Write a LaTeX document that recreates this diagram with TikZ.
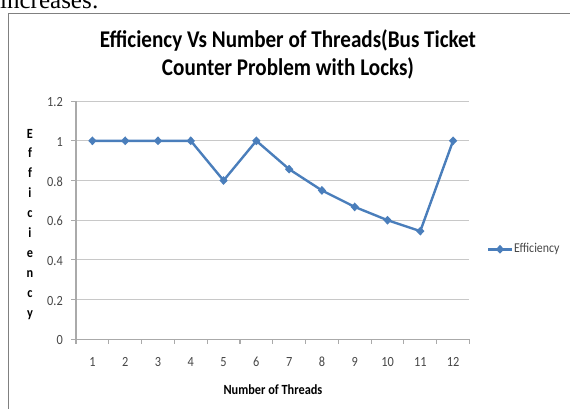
\documentclass[tikz,border=0pt]{standalone}
\usepackage{fontspec}
\setmainfont[FakeStretch=0.88]{Carlito}
\newfontfamily\pagefont{Liberation Serif}
\usetikzlibrary{shapes.geometric}
\definecolor{seriesblue}{RGB}{74,126,187}
\definecolor{framegray}{RGB}{128,128,128}
\definecolor{gridgray}{RGB}{200,200,200}
\definecolor{labelgray}{RGB}{70,70,70}

\begin{document}
\begin{tikzpicture}[x=1pt,y=-1pt,
  every node/.style={inner sep=0pt},
  chart frame/.style={draw=framegray,line width=1.2pt},
  grid line/.style={draw=gridgray,line width=1.1pt},
  axis line/.style={draw=gridgray!85!black,line width=1.1pt},
  series/.style={draw=seriesblue,line width=2.4pt,line join=round},
  marker/.style={diamond,fill=seriesblue,minimum width=8.5pt,minimum height=9pt},
  tick label/.style={font=\fontsize{14}{14}\selectfont,text=labelgray},
  axis title/.style={font=\bfseries\fontsize{14}{14}\selectfont},
  chart title/.style={font=\bfseries\fontsize{24}{24}\selectfont},
  legend text/.style={font=\fontsize{13.5}{13.5}\selectfont,text=labelgray}]

  \clip (0,0) rectangle (570,408);
  % page text above the chart
  \node[anchor=base west,font=\pagefont\fontsize{25}{25}\selectfont] (pagetext) at (0,8) {increases:};
  \draw[chart frame] (8.3,13.3) rectangle (590,430);

  \node[chart title,anchor=base] (title1) at (288,47) {Efficiency Vs Number of Threads(Bus Ticket};
  \node[chart title,anchor=base] (title2) at (288,75) {Counter Problem with Locks)};

  % plot area: one unit per thread, y is efficiency
  \begin{scope}[shift={(76,339.3)},x=32.79pt,y=198.5pt]
    \foreach \v in {0.2,0.4,...,1.2} \draw[grid line] (0,\v) -- (12,\v);
    \draw[axis line] (0,0) -- (0,1.2);
    \draw[axis line] (0,0) -- (12,0);
    \foreach \v in {0,0.2,...,1.2} \draw[axis line] (0,\v) -- ++(-5pt,0);
    \foreach \i in {0,...,12} \draw[axis line] (\i,0) -- ++(0,-5pt);
    \foreach \v/\t [count=\k] in {0/0,0.2/0.2,0.4/0.4,0.6/0.6,0.8/0.8,1/1,1.2/1.2}
      \node[tick label,anchor=east] (ylab\k) at ([xshift=-13pt,yshift=-1pt]0,\v) {\t};
    \foreach \i in {1,...,12}
      \node[tick label] (xlab\i) at ([yshift=-22.7pt]\i-0.5,0) {\i};

    \foreach \v [count=\i] in {1,1,1,1,0.8,1,0.857,0.75,0.667,0.6,0.545,1}
      \coordinate (p\i) at (\i-0.5,\v);
    \draw[series] (p1) \foreach \i in {2,...,12} {-- (p\i)};
    \foreach \i in {1,...,12} \node[marker] (m\i) at (p\i) {};
  \end{scope}

  \foreach \letter [count=\k from 0] in {E,f,f,i,c,i,e,n,c,y}
    \node[axis title,anchor=base] (ylet\k) at (30,138+19.9*\k) {\letter};
  \node[axis title,anchor=base] (xtitle) at (273,394) {Number of Threads};

  % legend
  \coordinate (legA) at (488,249.3);
  \coordinate (legB) at (512,249.3);
  \draw[series] (legA) -- (legB);
  \node[marker] (legmark) at (500,249.3) {};
  \node[legend text,anchor=west] (legtext) at (514,249.3) {Efficiency};
\end{tikzpicture}
\end{document}
